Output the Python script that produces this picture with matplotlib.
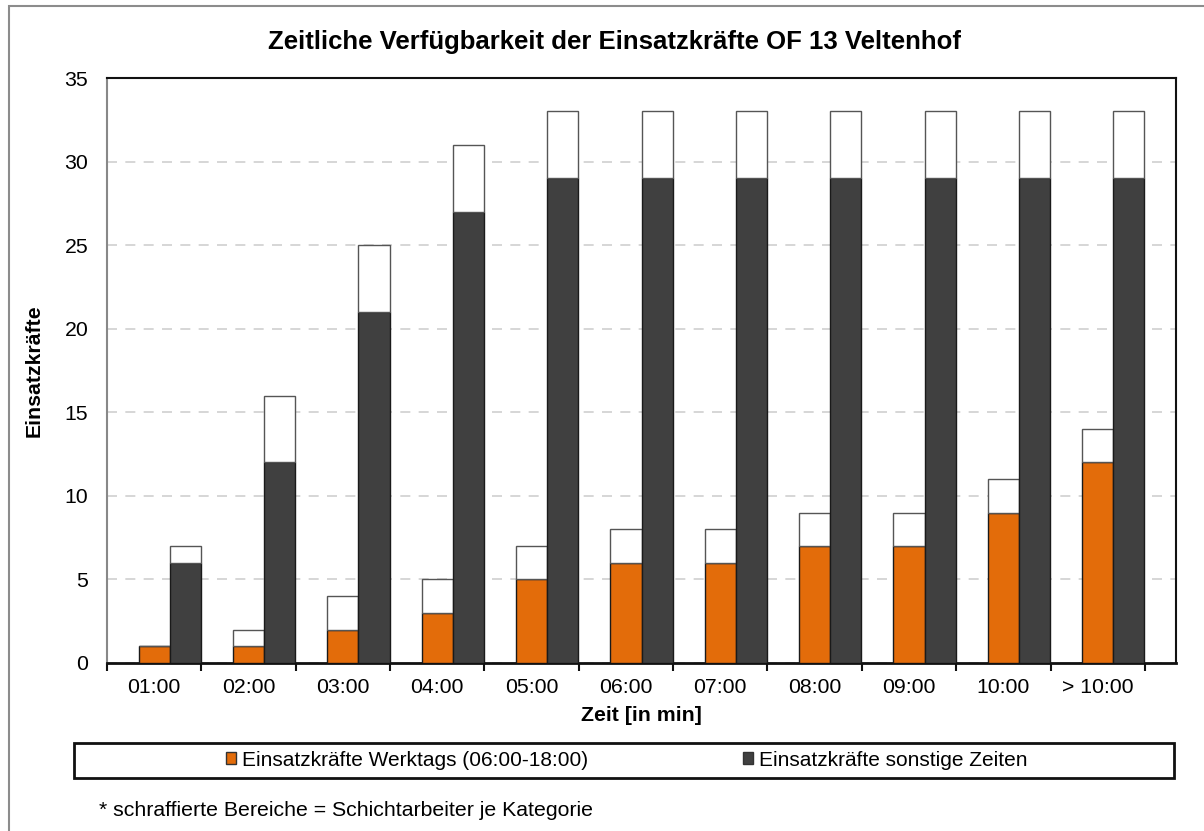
import matplotlib.pyplot as plt
import numpy as np
from matplotlib.patches import Rectangle, Patch

plt.rcParams.update(
    {
        "font.family": ["Liberation Sans", "DejaVu Sans"],
        "font.size": 15.3,
    }
)

zeiten = ["01:00", "02:00", "03:00", "04:00", "05:00", "06:00",
          "07:00", "08:00", "09:00", "10:00", "> 10:00"]
# Einsatzkraefte Werktags (06:00-18:00) and shift workers on top
werktags = [1, 1, 2, 3, 5, 6, 6, 7, 7, 9, 12]
werktags_schicht = [0, 1, 2, 2, 2, 2, 2, 2, 2, 2, 2]
# Einsatzkraefte sonstige Zeiten and shift workers on top
sonstige = [6, 12, 21, 27, 29, 29, 29, 29, 29, 29, 29]
sonstige_schicht = [1, 4, 4, 4, 4, 4, 4, 4, 4, 4, 4]

orange = "#E36C0A"
dark = "#404040"

fig = plt.figure(figsize=(12.04, 8.31), dpi=100)
ax = fig.add_axes([107 / 1204, 1 - 663 / 831, (1176 - 107) / 1204, (663 - 78) / 831])

x = np.arange(len(zeiten))
w = 0.33
ax.bar(x, werktags, w, color=orange, edgecolor="#1a1a1a", lw=1, zorder=3)
ax.bar(x, werktags_schicht, w, bottom=werktags, color="white",
       edgecolor="#555555", lw=1, zorder=3)
ax.bar(x + w, sonstige, w, color=dark, edgecolor="#1a1a1a", lw=1, zorder=3)
ax.bar(x + w, sonstige_schicht, w, bottom=sonstige, color="white",
       edgecolor="#555555", lw=1, zorder=3)

ax.set_ylim(0, 35)
ax.set_yticks(range(0, 36, 5))
ax.set_xlim(-0.5, len(zeiten) - 0.5 + w)
ax.set_xticks(np.arange(len(zeiten) + 1) - 0.5)
ax.set_xticklabels([])
ax.set_xticks(x, labels=zeiten, minor=True)
ax.tick_params(axis="x", which="major", length=6, width=1.5, color="#111111")
ax.tick_params(axis="x", which="minor", length=0, pad=11)
ax.tick_params(axis="y", length=0, pad=13.5)
ax.yaxis.grid(True, ls=(0, (6, 5)), color="#d0d0d0", lw=1.2, zorder=0)

for s in ["top", "right", "bottom"]:
    ax.spines[s].set_color("#111111")
    ax.spines[s].set_linewidth(1.5)
ax.spines["bottom"].set_linewidth(2)
ax.spines["left"].set_color("#888888")
ax.spines["left"].set_linewidth(1.5)

ax.set_xlabel("Zeit [in min]", fontweight="bold", labelpad=6)
ax.set_ylabel("Einsatzkräfte", fontweight="bold", labelpad=15)

fig.text(615 / 1204, 1 - 42 / 831, "Zeitliche Verfügbarkeit der Einsatzkräfte OF 13 Veltenhof",
         ha="center", va="center", fontsize=18.5, fontweight="bold")

# figure border
fig.patches.append(Rectangle((9 / 1204, -0.1), 1.2, 1 - 6 / 831 + 0.1,
                             transform=fig.transFigure, fill=False,
                             edgecolor="#8c8c8c", lw=1.5))
# legend box
fig.patches.append(Rectangle((74 / 1204, 1 - 778 / 831), (1174 - 74) / 1204, 35 / 831,
                             transform=fig.transFigure, fill=False,
                             edgecolor="#111111", lw=2))
handles = [Patch(facecolor=orange, edgecolor="#333333"),
           Patch(facecolor=dark, edgecolor="#333333")]
fig.legend(handles, ["Einsatzkräfte Werktags (06:00-18:00)", "Einsatzkräfte sonstige Zeiten"],
           loc="center left", bbox_to_anchor=(226 / 1204, 1 - 760 / 831), ncol=2,
           frameon=False, borderpad=0, borderaxespad=0,
           handlelength=0.5, handleheight=0.5, handletextpad=0.28,
           columnspacing=7.4, fontsize=15)

fig.text(99 / 1204, 1 - 811 / 831, "* schraffierte Bereiche = Schichtarbeiter je Kategorie",
         ha="left", va="center", fontsize=15.3)

fig.savefig("out.png", dpi=100)
